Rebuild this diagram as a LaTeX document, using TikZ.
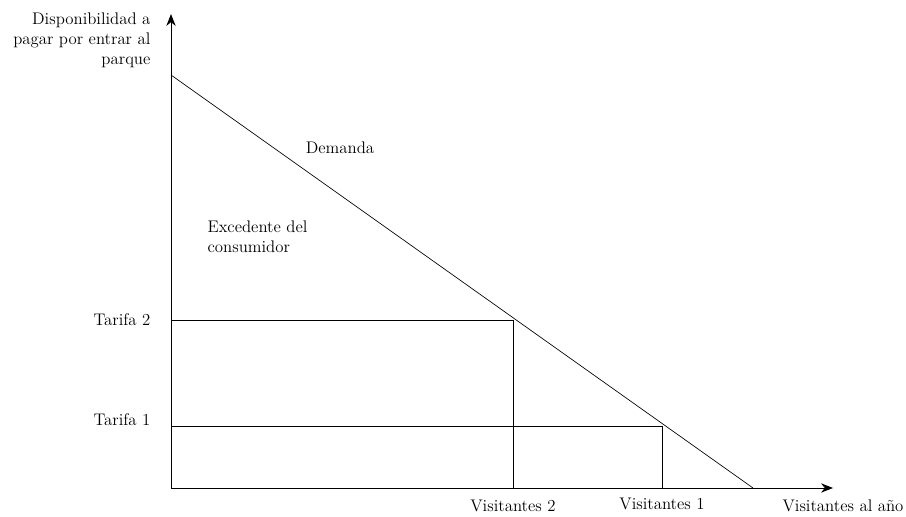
\documentclass[tikz,border=0pt]{standalone}
\usepackage{tikz}
\usetikzlibrary{arrows.meta}

\begin{document}
\begin{tikzpicture}[
		x=0.75pt, y=0.75pt,
		every node/.style={font=\fontsize{12.6}{15}\selectfont, inner sep=1pt},
		axis/.style={line width=0.7pt, -{Stealth[length=9pt, width=7pt]}},
		guide/.style={line width=0.5pt}
	]
  \useasboundingbox (0,0) rectangle (906,517);
  \coordinate (O) at (171,29);
  \coordinate (y_tip) at (171,503);
  \coordinate (x_tip) at (833,29);
  \coordinate (d_top) at (171,442);
  \coordinate (d_bot) at (753,29);
  \coordinate (t_2) at (171,197);
  \coordinate (t_1) at (171,91);
  \coordinate (p_2) at (513,197);
  \coordinate (p_1) at (662,91);
  \coordinate (v_2) at (513,29);
  \coordinate (v_1) at (662,29);
  \node (y_label) [anchor=north east, align=right] at (152,506) {Disponibilidad a\\pagar por entrar al\\parque};
  \node (x_label) [anchor=west] at (781,11) {Visitantes al año};
  \node (v_2_label) at (513,11) {Visitantes 2};
  \node (v_1_label) at (662,13) {Visitantes 1};
  \node (t_2_label) [anchor=east] at (152,197) {Tarifa 2};
  \node (t_1_label) [anchor=east] at (152,97) {Tarifa 1};
  \node (demand) at (340,369) {Demanda};
  \node (surplus) [anchor=north west, align=left] at (206,298) {Excedente del\\consumidor};
  \draw[axis] (O) -- (y_tip);
  \draw[axis] (O) -- (x_tip);
  \draw[guide] (d_top) -- (d_bot);
  \draw[guide] (t_2) -- (p_2) -- (v_2);
  \draw[guide] (t_1) -- (p_1) -- (v_1);
\end{tikzpicture}
\end{document}
